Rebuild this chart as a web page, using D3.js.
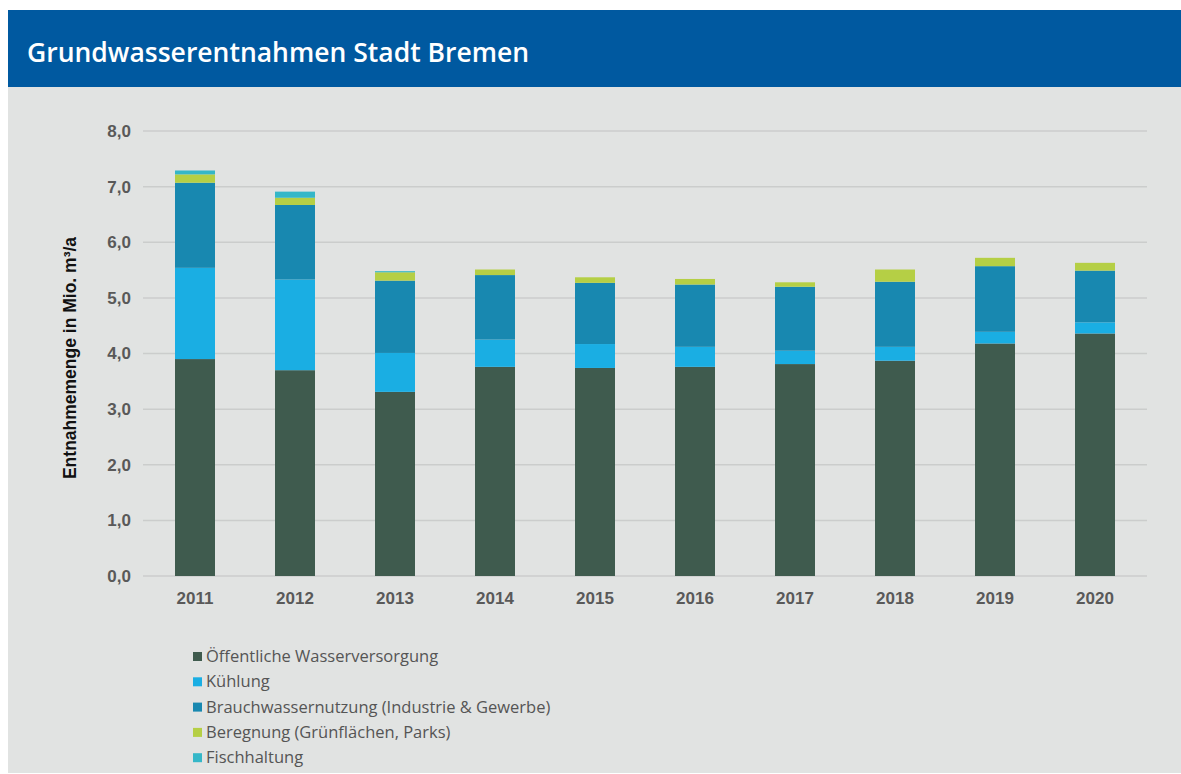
<!DOCTYPE html>
<html>
  <head>
    <meta charset="utf-8">
    <script src="https://d3js.org/d3.v7.min.js"></script>
    <style>
      body { margin: 0; background: #ffffff; }
    </style>
  </head>
  <body>
    <script>

    // data (Mio. m³/a)
    var years = ["2011", "2012", "2013", "2014", "2015", "2016", "2017", "2018", "2019", "2020"];
    var oeffentlich = [3.90, 3.70, 3.31, 3.76, 3.74, 3.76, 3.81, 3.87, 4.18, 4.36];
    var kuehlung    = [1.64, 1.63, 0.70, 0.49, 0.43, 0.36, 0.24, 0.25, 0.21, 0.20];
    var brauchwasser = [1.53, 1.34, 1.30, 1.16, 1.10, 1.12, 1.15, 1.17, 1.18, 0.93];
    var beregnung   = [0.15, 0.13, 0.15, 0.10, 0.10, 0.10, 0.08, 0.22, 0.15, 0.14];
    var fischhaltung = [0.07, 0.11, 0.02, 0.00, 0.00, 0.00, 0.00, 0.00, 0.00, 0.00];
    var seriesNames = ["Öffentliche Wasserversorgung", "Kühlung",
      "Brauchwassernutzung (Industrie & Gewerbe)", "Beregnung (Grünflächen, Parks)", "Fischhaltung"];
    var yTicks = [0, 1, 2, 3, 4, 5, 6, 7, 8];

    var colors = ["#3f5b4e", "#1aaee3", "#1888b0", "#b5cf45", "#35b7c8"];
    var w = 1181, h = 774;

    var svg = d3.select("body").append("svg")
      .attr("width", w)
      .attr("height", h);

    // frame: grey panel + blue title bar
    svg.append("rect").attr("x", 8).attr("y", 10).attr("width", w - 8).attr("height", 763)
      .attr("fill", "#e1e3e2");
    svg.append("rect").attr("x", 8).attr("y", 10).attr("width", w - 8).attr("height", 77)
      .attr("fill", "#0059a0");
    svg.append("text")
      .attr("x", 27).attr("y", 62)
      .attr("font-family", "'Open Sans', sans-serif")
      .attr("font-weight", 600)
      .attr("font-size", "26.5px")
      .attr("fill", "#ffffff")
      .text("Grundwasserentnahmen Stadt Bremen");

    // table for the stack
    var keys = ["o", "k", "b", "r", "f"];
    var table = years.map(function(y, i) {
      return { year: y, o: oeffentlich[i], k: kuehlung[i], b: brauchwasser[i], r: beregnung[i], f: fischhaltung[i] };
    });
    var stack = d3.stack().keys(keys)(table);

    var x = d3.scaleBand().domain(years).range([145, 1145]).paddingInner(0.6).paddingOuter(0.3);
    var y = d3.scaleLinear().domain([0, 8]).range([576, 131]);

    // gridlines
    svg.append("g").selectAll("line")
      .data(yTicks)
      .enter().append("line")
      .attr("x1", 143).attr("x2", 1147)
      .attr("y1", function(d) { return y(d); })
      .attr("y2", function(d) { return y(d); })
      .attr("stroke", "#cbcdcc")
      .attr("stroke-width", 1.5);

    // y axis labels
    var yAxis = d3.axisLeft(y).tickValues(yTicks).tickSize(0).tickPadding(0)
      .tickFormat(function(d) { return d3.format(".1f")(d).replace(".", ","); });
    var ya = svg.append("g").attr("transform", "translate(131,0)").call(yAxis);
    ya.select(".domain").remove();
    ya.selectAll("text")
      .attr("font-family", "'Liberation Sans', Arial, sans-serif")
      .attr("font-weight", "bold")
      .attr("font-size", "17px")
      .attr("fill", "#595959");

    // x axis labels
    var xAxis = d3.axisBottom(x).tickSize(0).tickPadding(0);
    var xa = svg.append("g").attr("transform", "translate(0,592)").call(xAxis);
    xa.select(".domain").remove();
    xa.selectAll("text")
      .attr("font-family", "'Liberation Sans', Arial, sans-serif")
      .attr("font-weight", "bold")
      .attr("font-size", "17px")
      .attr("fill", "#595959");

    // y axis title
    svg.append("text")
      .attr("transform", "translate(76,358) rotate(-90)")
      .attr("text-anchor", "middle")
      .attr("font-family", "'Liberation Sans', Arial, sans-serif")
      .attr("font-weight", "bold")
      .attr("font-size", "17.5px")
      .attr("fill", "#111111")
      .text("Entnahmemenge in Mio. m³/a");

    // stacked bars
    svg.append("g").selectAll("g")
      .data(stack)
      .enter().append("g")
      .attr("fill", function(d, i) { return colors[i]; })
      .selectAll("rect")
      .data(function(d) { return d; })
      .enter().append("rect")
      .attr("x", function(d) { return x(d.data.year); })
      .attr("y", function(d) { return y(d[1]); })
      .attr("width", x.bandwidth())
      .attr("height", function(d) { return y(d[0]) - y(d[1]); });

    // legend
    var legend = svg.append("g").selectAll("g")
      .data(seriesNames)
      .enter().append("g")
      .attr("transform", function(d, i) { return "translate(193," + (656 + i * 25.3) + ")"; });
    legend.append("rect")
      .attr("x", 0).attr("y", -4).attr("width", 9).attr("height", 9)
      .attr("fill", function(d, i) { return colors[i]; });
    legend.append("text")
      .attr("x", 13).attr("y", 6)
      .attr("font-family", "'Open Sans', sans-serif")
      .attr("font-size", "16.5px")
      .attr("fill", "#555555")
      .text(function(d) { return d; });

    </script>
  </body>
</html>
